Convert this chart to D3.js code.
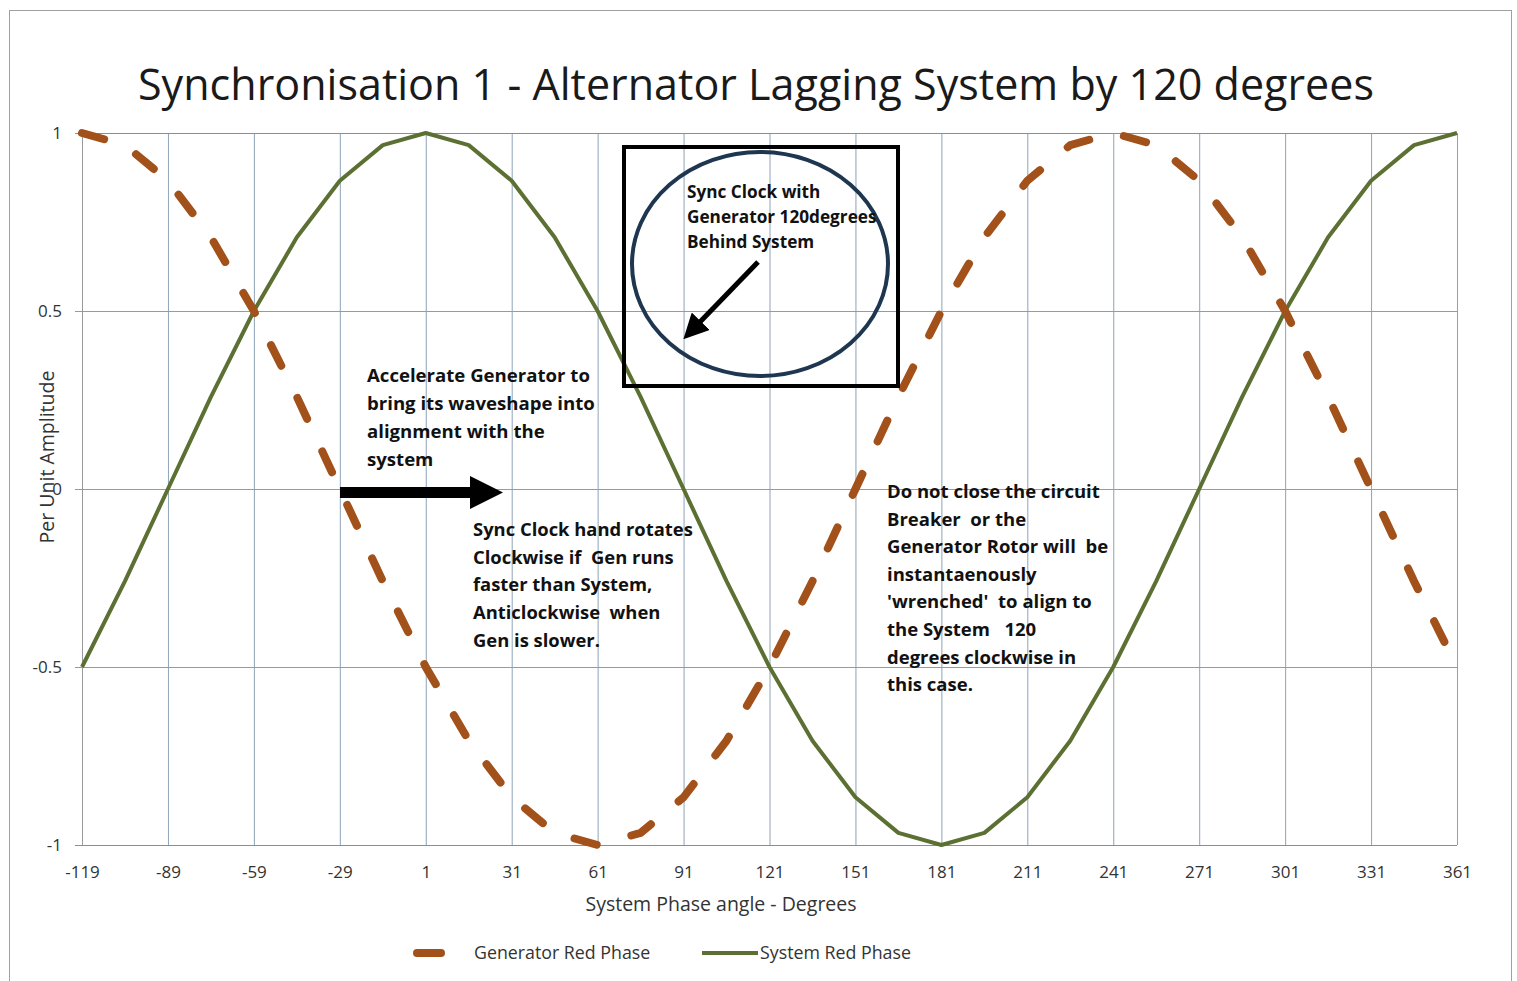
<!DOCTYPE html>
<html>
<head>
<meta charset="utf-8">
<script src="https://cdn.jsdelivr.net/npm/d3@7"></script>
<style>
  html, body { margin: 0; padding: 0; background: #fff; }
  svg { display: block; }
  text { font-family: "Open Sans", Lato, sans-serif; }
</style>
</head>
<body>
<svg id="chart" width="1517" height="981"></svg>
<script>
// ---- Data ----
const angles = [-119,-104,-89,-74,-59,-44,-29,-14,1,16,31,46,61,76,91,106,121,136,151,166,181,196,211,226,241,256,271,286,301,316,331,346,361];
const generatorRed = [1,0.966,0.866,0.707,0.5,0.259,0,-0.259,-0.5,-0.707,-0.866,-0.966,-1,-0.966,-0.866,-0.707,-0.5,-0.259,0,0.259,0.5,0.707,0.866,0.966,1,0.966,0.866,0.707,0.5,0.259,0,-0.259,-0.5];
const systemRed = [-0.5,-0.259,0,0.259,0.5,0.707,0.866,0.966,1,0.966,0.866,0.707,0.5,0.259,0,-0.259,-0.5,-0.707,-0.866,-0.966,-1,-0.966,-0.866,-0.707,-0.5,-0.259,0,0.259,0.5,0.707,0.866,0.966,1];
const xTickLabels = [-119,-89,-59,-29,1,31,61,91,121,151,181,211,241,271,301,331,361];
const yTickValues = [-1,-0.5,0,0.5,1];
const seriesNames = ["Generator Red Phase", "System Red Phase"];
const titleText = "Synchronisation 1 - Alternator Lagging System by 120 degrees";
const xAxisTitle = "System Phase angle - Degrees";
const yAxisTitle = "Per Unit Amplitude";
const noteAccelerate = ["Accelerate Generator to", "bring its waveshape into", "alignment with the", "system"];
const noteSyncHand = ["Sync Clock hand rotates", "Clockwise if  Gen runs", "faster than System,", "Anticlockwise  when", "Gen is slower."];
const noteDoNot = ["Do not close the circuit", "Breaker  or the", "Generator Rotor will  be", "instantaenously", "'wrenched'  to align to", "the System   120", "degrees clockwise in", "this case."];
const noteClock = ["Sync Clock with", "Generator 120degrees", "Behind System"];

// ---- Layout ----
const svg = d3.select("#chart");
const plotL = 82, plotR = 1457, plotT = 133, plotB = 845;
const genColor = "#A2511A", sysColor = "#5C7033";

const x = d3.scaleLinear().domain([-119, 361]).range([plotL, plotR]);
const y = d3.scaleLinear().domain([-1, 1]).range([plotB, plotT]);

// outer border
svg.append("rect").attr("x", 9.5).attr("y", 10.5).attr("width", 1502).attr("height", 980)
  .attr("fill", "none").attr("stroke", "#a0a0a0").attr("stroke-width", 1);

// title
svg.append("text").attr("x", 756).attr("y", 100).attr("text-anchor", "middle")
  .attr("font-size", 44).attr("fill", "#1a1a1a").attr("font-family", "Lato, sans-serif")
  .attr("textLength", 1236).attr("lengthAdjust", "spacingAndGlyphs")
  .text(titleText);

// vertical gridlines
svg.append("g").selectAll("line").data(xTickLabels).join("line")
  .attr("x1", d => x(d) + 0.5).attr("x2", d => x(d) + 0.5)
  .attr("y1", plotT).attr("y2", plotB)
  .attr("stroke", "#8ea3b8").attr("stroke-width", 1);

// horizontal gridlines
svg.append("g").selectAll("line").data(yTickValues).join("line")
  .attr("x1", plotL - 7).attr("x2", plotR)
  .attr("y1", d => Math.round(y(d)) + 0.5).attr("y2", d => Math.round(y(d)) + 0.5)
  .attr("stroke", d => (d === 1 || d === -1) ? "#8e9270" : "#9a9a9a").attr("stroke-width", 1);

// y axis labels via d3 axis
const yAxis = d3.axisLeft(y).tickValues(yTickValues).tickSize(0).tickPadding(20)
  .tickFormat(d => d === 0 ? "0" : String(d));
const gy = svg.append("g").attr("transform", `translate(${plotL},0)`).call(yAxis);
gy.select(".domain").attr("stroke", "#9a9a9a");
gy.selectAll("text").attr("font-size", 17).attr("fill", "#333").attr("font-family", "Lato, sans-serif");

// x axis labels
const xAxis = d3.axisBottom(x).tickValues(xTickLabels).tickSize(0).tickPadding(21).tickFormat(d => String(d));
const gx = svg.append("g").attr("transform", `translate(0,${plotB})`).call(xAxis);
gx.select(".domain").remove();
gx.selectAll("text").attr("font-size", 17).attr("fill", "#333").attr("font-family", "Lato, sans-serif");

// axis titles
svg.append("text").attr("x", 721).attr("y", 911).attr("text-anchor", "middle")
  .attr("font-size", 19.5).attr("fill", "#333").text(xAxisTitle);
svg.append("text").attr("transform", "translate(54,457) rotate(-90)").attr("text-anchor", "middle")
  .attr("font-size", 19.5).attr("fill", "#333").text(yAxisTitle);

// series
const line = d3.line().x(d => x(d[0])).y(d => y(d[1]));
const sysPts = angles.map((a, i) => [a, systemRed[i]]);
const genPts = angles.map((a, i) => [a, generatorRed[i]]);

svg.append("path").attr("d", line(sysPts)).attr("fill", "none")
  .attr("stroke", sysColor).attr("stroke-width", 4).attr("stroke-linejoin", "round");
svg.append("path").attr("d", line(genPts)).attr("fill", "none")
  .attr("stroke", genColor).attr("stroke-width", 8).attr("stroke-linecap", "round")
  .attr("stroke-dasharray", "23,36");

// sync clock box
svg.append("rect").attr("x", 624).attr("y", 147).attr("width", 274).attr("height", 239)
  .attr("fill", "none").attr("stroke", "#000").attr("stroke-width", 4);
svg.append("ellipse").attr("cx", 760).attr("cy", 264).attr("rx", 128).attr("ry", 112)
  .attr("fill", "none").attr("stroke", "#1f3650").attr("stroke-width", 4);

// arrow marker
const defs = svg.append("defs");
defs.append("marker").attr("id", "ah").attr("viewBox", "0 0 10 10").attr("refX", 1).attr("refY", 5)
  .attr("markerWidth", 5).attr("markerHeight", 5).attr("orient", "auto")
  .append("path").attr("d", "M0,0 L10,5 L0,10 z").attr("fill", "#000");
svg.append("line").attr("x1", 758).attr("y1", 262).attr("x2", 699).attr("y2", 323)
  .attr("stroke", "#000").attr("stroke-width", 5).attr("marker-end", "url(#ah)");

// big arrow
svg.append("path").attr("d", "M340,487 L470,487 L470,476 L503,492.5 L470,509 L470,498 L340,498 Z")
  .attr("fill", "#000");

// annotation texts
function note(lines, x0, y0, step, size) {
  const t = svg.append("text").attr("font-size", size).attr("font-weight", "bold").attr("fill", "#111")
    .style("white-space", "pre");
  lines.forEach((s, i) => {
    t.append("tspan").attr("x", x0).attr("y", y0 + i * step).text(s);
  });
}
note(noteClock, 687, 198, 25, 17.2);
note(noteAccelerate, 367, 382, 28, 18.6);
note(noteSyncHand, 473, 536, 27.7, 18.4);
note(noteDoNot, 887, 498, 27.6, 18.5);

// legend
svg.append("line").attr("x1", 417).attr("x2", 441).attr("y1", 953).attr("y2", 953)
  .attr("stroke", genColor).attr("stroke-width", 8).attr("stroke-linecap", "round");
svg.append("text").attr("x", 474).attr("y", 959).attr("font-size", 17.8).attr("fill", "#333").text(seriesNames[0]);
svg.append("line").attr("x1", 702).attr("x2", 758).attr("y1", 953).attr("y2", 953)
  .attr("stroke", sysColor).attr("stroke-width", 4);
svg.append("text").attr("x", 760).attr("y", 959).attr("font-size", 17.8).attr("fill", "#333").text(seriesNames[1]);
</script>
</body>
</html>
